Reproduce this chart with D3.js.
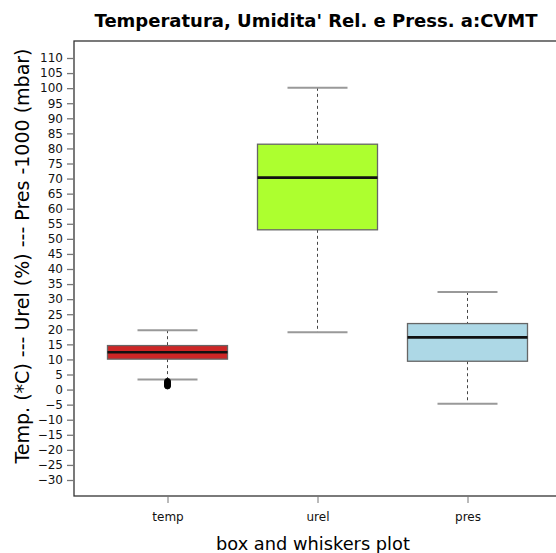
<!DOCTYPE html>
<html>
<head>
<meta charset="utf-8">
<script src="https://cdn.jsdelivr.net/npm/d3@7"></script>
<style>
  body { margin: 0; background: #fff; }
  text { font-family: "DejaVu Sans", sans-serif; }
</style>
</head>
<body>
<div id="chart"></div>
<script>
const categories = ["temp", "urel", "pres"];
const lowWhisker = [3.3, 19.0, -4.7];
const q1 = [10.1, 53.0, 9.4];
const median = [12.4, 70.3, 17.3];
const q3 = [14.6, 81.4, 21.9];
const highWhisker = [19.7, 100.1, 32.4];
const outliers = [[1.2, 1.7, 2.2, 2.7], [], []];
const fills = ["#cd2626", "#adff2f", "#add8e6"];
const yTicks = d3.range(-30, 111, 5);

const W = 556, H = 553;
const m = {left: 74, top: 41, bottom: 57};
const plotH = H - m.top - m.bottom;

const svg = d3.select("#chart").append("svg")
    .attr("width", W)
    .attr("height", H);

const g = svg.append("g").attr("transform", `translate(${m.left},${m.top})`);

const x = d3.scalePoint().domain(categories).range([93.5, 393.5]);
const y = d3.scaleLinear().domain([-30, 110]).range([439, 17]);
const boxW = 120, capW = 60;

// frame (right side runs off the page)
g.append("rect")
    .attr("x", 0).attr("y", 0)
    .attr("width", 600).attr("height", plotH)
    .attr("fill", "none").attr("stroke", "#333").attr("stroke-width", 1.3);

const yAxis = g.append("g")
    .call(d3.axisLeft(y).tickValues(yTicks).tickSize(7).tickPadding(4));
yAxis.select(".domain").remove();
yAxis.selectAll("line").attr("stroke", "#777").attr("stroke-width", 1.3);
yAxis.selectAll("text").style("font-size", "12px").attr("fill", "#111");

const xAxis = g.append("g")
    .attr("transform", `translate(0,${plotH})`)
    .call(d3.axisBottom(x).tickSize(7).tickPadding(9));
xAxis.select(".domain").remove();
xAxis.selectAll("line").attr("stroke", "#777");
xAxis.selectAll("text").style("font-size", "12px").attr("fill", "#111");

const boxes = g.selectAll(".box")
    .data(categories)
    .join("g")
    .attr("class", "box");

// whiskers
boxes.append("line")
    .attr("x1", d => x(d)).attr("x2", d => x(d))
    .attr("y1", (d, i) => y(highWhisker[i])).attr("y2", (d, i) => y(q3[i]))
    .attr("stroke", "#444").attr("stroke-dasharray", "3,3");
boxes.append("line")
    .attr("x1", d => x(d)).attr("x2", d => x(d))
    .attr("y1", (d, i) => y(q1[i])).attr("y2", (d, i) => y(lowWhisker[i]))
    .attr("stroke", "#444").attr("stroke-dasharray", "3,3");

// caps
[highWhisker, lowWhisker].forEach(arr => {
  boxes.append("line")
      .attr("x1", d => x(d) - capW / 2).attr("x2", d => x(d) + capW / 2)
      .attr("y1", (d, i) => y(arr[i])).attr("y2", (d, i) => y(arr[i]))
      .attr("stroke", "#999").attr("stroke-width", 2);
});

boxes.append("rect")
    .attr("x", d => x(d) - boxW / 2)
    .attr("width", boxW)
    .attr("y", (d, i) => y(q3[i]))
    .attr("height", (d, i) => y(q1[i]) - y(q3[i]))
    .attr("fill", (d, i) => fills[i])
    .attr("stroke", "#666").attr("stroke-width", 1.3);

boxes.append("line")
    .attr("x1", d => x(d) - boxW / 2).attr("x2", d => x(d) + boxW / 2)
    .attr("y1", (d, i) => y(median[i])).attr("y2", (d, i) => y(median[i]))
    .attr("stroke", "#111").attr("stroke-width", 2.6);

boxes.selectAll(".out")
    .data((d, i) => outliers[i].map(v => ({cat: d, v})))
    .join("circle")
    .attr("class", "out")
    .attr("cx", o => x(o.cat))
    .attr("cy", o => y(o.v))
    .attr("r", 3)
    .attr("fill", "#000").attr("stroke", "#000");

svg.append("text")
    .attr("x", 316).attr("y", 27)
    .attr("text-anchor", "middle")
    .style("font-size", "18px").style("font-weight", "bold")
    .text("Temperatura, Umidita' Rel. e Press. a:CVMT");

svg.append("text")
    .attr("x", 313).attr("y", 550)
    .attr("text-anchor", "middle")
    .style("font-size", "17.8px")
    .text("box and whiskers plot");

svg.append("text")
    .attr("transform", "translate(29,256) rotate(-90)")
    .attr("text-anchor", "middle")
    .style("font-size", "19px")
    .text("Temp. (*C) --- Urel (%) --- Pres -1000 (mbar)");
</script>
</body>
</html>
